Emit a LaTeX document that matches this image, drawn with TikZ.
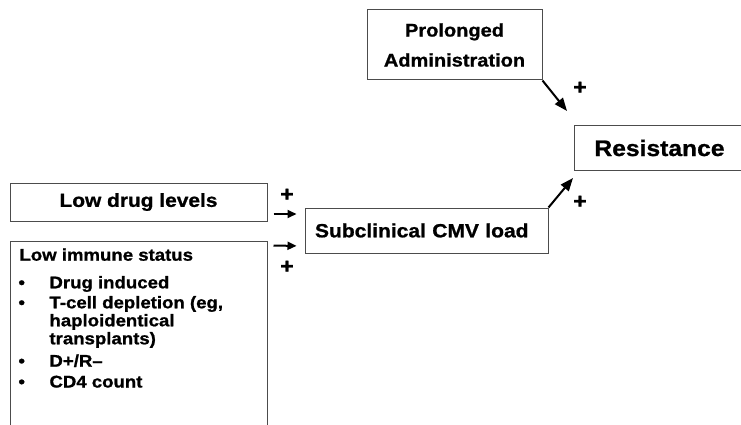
\documentclass[tikz,border=0pt]{standalone}
\usepackage{fontspec}
\setmainfont{Liberation Sans}[FakeStretch=1.1, FakeBold=1]
\usetikzlibrary{arrows.meta}
\newcommand\myfs[2]{\fontsize{#1}{#2}\selectfont\bfseries}
\begin{document}
\begin{tikzpicture}[x=1pt,y=-1pt,
  box/.style={draw=black!70, line width=1pt, rectangle, inner sep=0pt},
  txt/.style={anchor=base west, inner sep=0pt, font=\myfs{16.9}{19}},
  bul/.style={anchor=base, inner sep=0pt, font=\myfs{16.9}{19}},
  plus/.style={inner sep=0pt, font=\myfs{21}{21}},
  harr/.style={line width=2pt, -{Triangle[length=9pt,width=8pt]}},
  darr/.style={line width=2pt, -{Triangle[length=13pt,width=10pt]}}]
\useasboundingbox (0,0) rectangle (741,425);
\clip (0,0) rectangle (741,425);

\node[box, minimum width=175pt, minimum height=70pt, align=center, font=\myfs{18.2}{30}] (pa) at (454.5,45) {Prolonged\\Administration};
\node[box, minimum width=171pt, minimum height=44pt, font=\myfs{22.4}{24}] (res) at (659.5,148) {Resistance};
\node[box, minimum width=257pt, minimum height=38pt, font=\myfs{19}{20}] (ldl) at (138.5,202) {Low drug levels};
\node[box, minimum width=257pt, minimum height=199pt] (lis) at (138.5,340.5) {};
\node[box, minimum height=45pt, text width=223pt, inner xsep=10pt, align=left, font=\myfs{19.1}{20}] (scl) at (426.5,230.5) {Subclinical CMV load};

\node[txt] (l0) at (19.3,260.7) {Low immune status};
\node[bul] (b1) at (21.7,288.3) {\textbullet};
\node[txt] (l1) at (49.3,288.3) {Drug induced};
\node[bul] (b2) at (21.7,308.3) {\textbullet};
\node[txt] (l2) at (49.3,308.3) {T-cell depletion (eg,};
\node[txt] (l3) at (49.3,326.3) {haploidentical};
\node[txt] (l4) at (49.3,344.3) {transplants)};
\node[bul] (b3) at (21.7,366.7) {\textbullet};
\node[txt] (l5) at (49.3,366.7) {D+/R–};
\node[bul] (b4) at (21.7,387.5) {\textbullet};
\node[txt] (l6) at (49.3,387.5) {CD4 count};

\node[plus] (p1) at (287,195) {+};
\node[plus] (p2) at (287,267) {+};
\node[plus] (p3) at (580,88) {+};
\node[plus] (p4) at (580,202) {+};

\coordinate (t1) at (567,111);
\coordinate (t2) at (573,178);

\draw[harr, shorten <=6pt, shorten >=8pt] ([yshift=-12pt]ldl.east) -- ([yshift=16.5pt]scl.west);
\draw[harr, shorten <=6pt, shorten >=8pt] ([yshift=-5pt]lis.north east) -- ([yshift=-15.5pt]scl.west);
\draw[darr] (pa.south east) -- (t1);
\draw[darr] (scl.north east) -- (t2);
\end{tikzpicture}
\end{document}
